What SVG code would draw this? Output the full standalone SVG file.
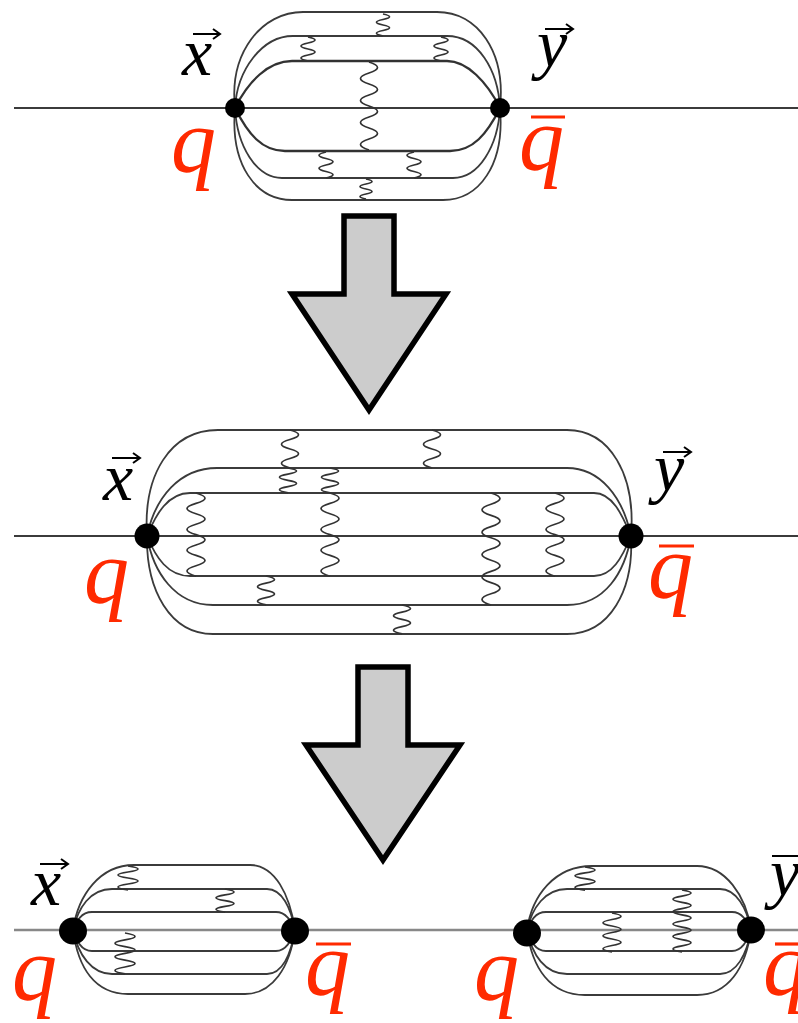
<svg xmlns="http://www.w3.org/2000/svg" width="798" height="1023" viewBox="0 0 798 1023">
<style>
.l{fill:none;stroke:#3a3a3a;stroke-width:1.8}
.t{fill:none;stroke:#333;stroke-width:2.3}
.w{fill:none;stroke:#333;stroke-width:1.7}
.b{fill:none;stroke:#888;stroke-width:2.6}
.n{fill:#000}
.a{fill:#ccc;stroke:#000;stroke-width:5.5;stroke-linejoin:miter}
.q{font-family:"Liberation Serif",serif;font-style:italic;font-size:90px;fill:#ff2a00}
.v{font-family:"Liberation Serif",serif;font-style:italic;font-size:68px;fill:#000}
.r{fill:none;stroke:#000;stroke-width:2}
.o{stroke:#ff2a00;stroke-width:3.2}
</style>
<defs><filter id="s" x="-5%" y="-5%" width="110%" height="110%"><feGaussianBlur stdDeviation="0.45"/></filter></defs>
<rect width="798" height="1023" fill="#fff"/>
<g id="connectors" filter="url(#s)">
<g id="top-lines">
<path class="l" d="M14,108H798"/>
<path class="l" d="M235,108C229,52 262,12 303,12H437C478,12 506,52 500,108"/>
<path class="l" d="M235,108C237,70 262,36 293,36H447C478,36 498,70 500,108"/>
<path class="t" d="M235,108C248,82 268,61 292,61H447C467,61 487,82 500,108"/>
<path class="t" d="M235,108C248,134 262,151 285,151H450C473,151 487,134 500,108"/>
<path class="l" d="M235,108C237,146 256,178 282,178H453C479,178 498,146 500,108"/>
<path class="l" d="M235,108C230,165 256,200 292,200H443C479,200 505,165 500,108"/>
<path class="w" d="M383,14q13,2.750 0,5.500t0,5.500t0,5.500t0,5.500"/>
<path class="w" d="M308,37q14,3 0,6t0,6t0,6t0,6"/>
<path class="w" d="M441,37q14,3 0,6t0,6t0,6t0,6"/>
<path class="w" d="M369,62q17,5.500 0,11t0,11t0,11t0,11t0,11t0,11t0,11t0,11"/>
<path class="w" d="M326,152q-14,3.250 0,6.500t0,6.500t0,6.500t0,6.500"/>
<path class="w" d="M414,152q-14,3.250 0,6.500t0,6.500t0,6.500t0,6.500"/>
<path class="w" d="M366,179q12,2.500 0,5t0,5t0,5t0,5"/>
</g>
<g id="middle-lines">
<path class="l" d="M14,536H798"/>
<path class="l" d="M147,536C143,475 170,430 218,430H567C610,430 636,475 631,536"/>
<path class="l" d="M147,536C155,497 180,468 217,468H567C600,468 623,497 631,536"/>
<path class="l" d="M147,536C156,514 168,493 190,493H594C612,493 622,514 631,536"/>
<path class="l" d="M147,536C156,558 168,576 190,576H594C612,576 622,558 631,536"/>
<path class="l" d="M147,536C153,572 175,605 213,605H567C605,605 625,572 631,536"/>
<path class="l" d="M147,536C146,590 170,634 213,634H567C610,634 634,590 631,536"/>
<path class="w" d="M290,430q17,4.750 0,9.500t0,9.500t0,9.500t0,9.500"/>
<path class="w" d="M288,468q17,3.100 0,6.200t0,6.200t0,6.200t0,6.200"/>
<path class="w" d="M330,468q17,3.100 0,6.200t0,6.200t0,6.200t0,6.200"/>
<path class="w" d="M196,493q18,5.200 0,10.400t0,10.400t0,10.400t0,10.400t0,10.400t0,10.400t0,10.400t0,10.400"/>
<path class="w" d="M330,493q18,5.200 0,10.400t0,10.400t0,10.400t0,10.400t0,10.400t0,10.400t0,10.400t0,10.400"/>
<path class="w" d="M266,576q17,3.600 0,7.200t0,7.200t0,7.200t0,7.200"/>
<path class="w" d="M402,605q17,3.600 0,7.200t0,7.200t0,7.200t0,7.200"/>
<path class="w" d="M432,430q17,4.750 0,9.500t0,9.500t0,9.500t0,9.500"/>
<path class="w" d="M491,493q18,5.600 0,11.200t0,11.200t0,11.200t0,11.200t0,11.200t0,11.200t0,11.200t0,11.200t0,11.200t0,11.200"/>
<path class="w" d="M555,493q18,5.200 0,10.400t0,10.400t0,10.400t0,10.400t0,10.400t0,10.400t0,10.400t0,10.400"/>
</g>
<g id="bottom-left-lines">
<path class="b" d="M14,930H798"/>
<path class="l" d="M73,930C78,895 100,865 134,865H250C275,865 290,895 295,930"/>
<path class="l" d="M73,930C78,908 90,889 112,889H267C282,889 291,908 295,930"/>
<path class="l" d="M73,930C77,921 81,912 92,912H276C286,912 291,921 295,930"/>
<path class="l" d="M73,930C77,941 81,951 92,951H276C286,951 291,941 295,930"/>
<path class="l" d="M73,930C78,955 92,974 112,974H267C282,974 291,955 295,930"/>
<path class="l" d="M73,930C78,968 95,994 128,994H245C272,994 290,968 295,930"/>
<path class="w" d="M128,866q20,3 0,6t0,6t0,6t0,6"/>
<path class="w" d="M225,889q18,2.900 0,5.800t0,5.800t0,5.800t0,5.800"/>
<path class="w" d="M125,933q20,3.400 0,6.800t0,6.800t0,6.800t0,6.800t0,6.800t0,6.800"/>
</g>
<g id="bottom-right-lines">
<path class="l" d="M527,930C532,895 555,866 592,866H697C725,866 746,895 751,930"/>
<path class="l" d="M527,930C532,908 545,889 567,889H720C736,889 747,908 751,930"/>
<path class="l" d="M527,930C531,921 535,912 546,912H732C742,912 747,921 751,930"/>
<path class="l" d="M527,930C531,941 535,951 546,951H732C742,951 747,941 751,930"/>
<path class="l" d="M527,930C532,955 545,974 567,974H720C736,974 747,955 751,930"/>
<path class="l" d="M527,930C532,968 550,995 585,995H697C728,995 746,968 751,930"/>
<path class="w" d="M585,867q20,2.900 0,5.800t0,5.800t0,5.800t0,5.800"/>
<path class="w" d="M682,890q18,3.100 0,6.200t0,6.200t0,6.200t0,6.200t0,6.200t0,6.200t0,6.200t0,6.200t0,6.200t0,6.200"/>
<path class="w" d="M612,913q18,3.250 0,6.500t0,6.500t0,6.500t0,6.500t0,6.500t0,6.500"/>
</g>
</g>
<g id="arrow-1"><polygon class="a" points="344,216 394,216 394,294 446,294 369,410 292,294 344,294"/></g>
<g id="arrow-2"><polygon class="a" points="358,667 408,667 408,745 460,745 383,860 306,745 358,745"/></g>
<g id="node-top-x"><circle class="n" cx="235" cy="108" r="10"/></g>
<g id="node-top-y"><circle class="n" cx="500" cy="108" r="10"/></g>
<g id="node-middle-x"><circle class="n" cx="147" cy="536" r="12.5"/></g>
<g id="node-middle-y"><circle class="n" cx="631" cy="536" r="12.5"/></g>
<g id="node-bottom-1"><ellipse class="n" cx="73" cy="931" rx="14" ry="13.5"/></g>
<g id="node-bottom-2"><ellipse class="n" cx="295" cy="931" rx="14" ry="13.5"/></g>
<g id="node-bottom-3"><ellipse class="n" cx="527" cy="933" rx="14" ry="13.5"/></g>
<g id="node-bottom-4"><ellipse class="n" cx="751" cy="930" rx="14" ry="13.5"/></g>
<g id="labels">
<text class="v" x="182" y="75">x</text>
<path class="r" d="M193,34H219M213,29L220,34L213,39"/>
<text class="v" x="537" y="67">y</text>
<path class="r" d="M545,29H572M566,24L573,29L566,34"/>
<text class="q" x="171" y="172">q</text>
<text class="q" x="519" y="170">q</text>
<path class="o" d="M531,117H565"/>
<text class="v" x="103" y="500">x</text>
<path class="r" d="M112,458H139M133,453L140,458L133,463"/>
<text class="v" x="654" y="491">y</text>
<path class="r" d="M663,452H690M684,447L691,452L684,457"/>
<text class="q" x="84" y="603">q</text>
<text class="q" x="648" y="598">q</text>
<path class="o" d="M659,546H694"/>
<text class="v" x="31" y="905">x</text>
<path class="r" d="M40,864H67M61,859L68,864L61,869"/>
<text class="q" x="12" y="1000">q</text>
<text class="q" x="305" y="995">q</text>
<path class="o" d="M316,944H351"/>
<text class="q" x="474" y="1000">q</text>
<text class="v" x="770" y="896">y</text>
<path class="r" d="M772,856H798"/>
<text class="q" x="763" y="995">q</text>
<path class="o" d="M775,944H798"/>
</g>
</svg>
